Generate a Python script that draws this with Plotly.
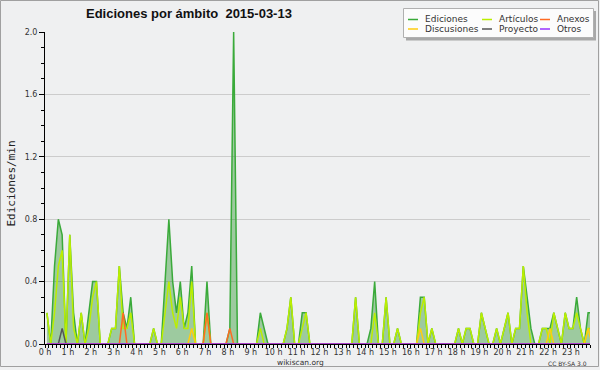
import plotly.graph_objects as go

# 10-minute bins over the day (bin centre, in hours)
bin_index = list(range(144))
hours = [(i + 0.5) / 6 for i in bin_index]

ediciones = [
    0.2, 0, 0.5, 0.8, 0.7, 0, 0.7, 0.2, 0, 0.2, 0, 0.2,
    0.4, 0.4, 0, 0, 0, 0.1, 0.1, 0.5, 0.2, 0.1, 0.3, 0,
    0, 0, 0, 0, 0.1, 0, 0, 0.4, 0.8, 0.4, 0.2, 0.4,
    0.1, 0.2, 0.5, 0, 0, 0, 0.4, 0, 0, 0, 0, 0,
    0.1, 2.0, 0, 0, 0, 0, 0, 0, 0.2, 0.1, 0, 0,
    0, 0, 0, 0.1, 0.3, 0, 0, 0.2, 0.2, 0, 0, 0,
    0, 0, 0, 0, 0, 0, 0, 0, 0, 0.3, 0, 0,
    0, 0.1, 0.4, 0, 0, 0.3, 0, 0, 0.1, 0, 0, 0,
    0, 0, 0.3, 0.3, 0, 0.1, 0, 0, 0, 0, 0, 0,
    0.1, 0, 0.1, 0.1, 0, 0, 0.2, 0.1, 0, 0, 0.1, 0,
    0.1, 0.2, 0, 0.1, 0.1, 0.5, 0.3, 0.1, 0, 0, 0.1, 0.1,
    0.1, 0.2, 0.1, 0, 0.2, 0.1, 0.1, 0.3, 0.1, 0, 0.2, 0.2,
]
articulos = [
    0.2, 0, 0.2, 0.5, 0.6, 0, 0.7, 0.1, 0, 0.2, 0, 0.1,
    0.3, 0.4, 0, 0, 0, 0.1, 0.1, 0.5, 0.1, 0.1, 0.2, 0,
    0, 0, 0, 0, 0.1, 0, 0, 0.2, 0.4, 0.2, 0.1, 0.3,
    0.1, 0.1, 0.4, 0, 0, 0, 0.2, 0, 0, 0, 0, 0,
    0, 0, 0, 0, 0, 0, 0, 0, 0.1, 0, 0, 0,
    0, 0, 0, 0.1, 0.3, 0, 0, 0.1, 0.2, 0, 0, 0,
    0, 0, 0, 0, 0, 0, 0, 0, 0, 0.3, 0, 0,
    0, 0, 0.2, 0, 0, 0.3, 0, 0, 0.1, 0, 0, 0,
    0, 0, 0.2, 0.3, 0, 0.1, 0, 0, 0, 0, 0, 0,
    0.1, 0, 0.1, 0.1, 0, 0, 0.2, 0.1, 0, 0, 0.1, 0,
    0.1, 0.2, 0, 0.1, 0.1, 0.5, 0.2, 0, 0, 0, 0.1, 0.1,
    0, 0.2, 0.1, 0, 0.2, 0.1, 0.1, 0.2, 0.1, 0, 0.1, 0.1,
]
anexos = [
    0, 0, 0, 0, 0, 0, 0, 0, 0, 0, 0, 0,
    0, 0, 0, 0, 0, 0, 0, 0, 0.2, 0, 0, 0,
    0, 0, 0, 0, 0, 0, 0, 0, 0, 0, 0, 0,
    0, 0, 0, 0, 0, 0, 0.2, 0, 0, 0, 0, 0,
    0.1, 0, 0, 0, 0, 0, 0, 0, 0, 0, 0, 0,
    0, 0, 0, 0, 0, 0, 0, 0, 0, 0, 0, 0,
    0, 0, 0, 0, 0, 0, 0, 0, 0, 0, 0, 0,
    0, 0, 0, 0, 0, 0, 0, 0, 0, 0, 0, 0,
    0, 0, 0, 0, 0, 0, 0, 0, 0, 0, 0, 0,
    0, 0, 0, 0, 0, 0, 0, 0, 0, 0, 0, 0,
    0, 0, 0, 0, 0, 0, 0, 0, 0, 0, 0, 0,
    0, 0, 0, 0, 0, 0, 0, 0, 0, 0, 0, 0,
]
discusiones = [
    0, 0, 0, 0, 0, 0, 0, 0, 0, 0, 0, 0,
    0, 0, 0, 0, 0, 0, 0, 0, 0, 0, 0, 0,
    0, 0, 0, 0, 0, 0, 0, 0, 0, 0, 0, 0,
    0, 0, 0.1, 0, 0, 0, 0, 0, 0, 0, 0, 0,
    0, 0, 0, 0, 0, 0, 0, 0, 0, 0, 0, 0,
    0, 0, 0, 0, 0, 0, 0, 0, 0, 0, 0, 0,
    0, 0, 0, 0, 0, 0, 0, 0, 0, 0, 0, 0,
    0, 0, 0, 0, 0, 0, 0, 0, 0, 0, 0, 0,
    0, 0, 0.1, 0, 0, 0, 0, 0, 0, 0, 0, 0,
    0, 0, 0, 0, 0, 0, 0, 0, 0, 0, 0, 0,
    0, 0, 0, 0, 0, 0, 0, 0, 0, 0, 0, 0,
    0.1, 0, 0, 0, 0, 0, 0, 0, 0, 0, 0.1, 0,
]
proyecto = [
    0, 0, 0, 0, 0.1, 0, 0, 0, 0, 0, 0, 0,
    0, 0, 0, 0, 0, 0, 0, 0, 0, 0, 0, 0,
    0, 0, 0, 0, 0, 0, 0, 0, 0, 0, 0, 0,
    0, 0, 0, 0, 0, 0, 0, 0, 0, 0, 0, 0,
    0, 0, 0, 0, 0, 0, 0, 0, 0, 0, 0, 0,
    0, 0, 0, 0, 0, 0, 0, 0, 0, 0, 0, 0,
    0, 0, 0, 0, 0, 0, 0, 0, 0, 0, 0, 0,
    0, 0, 0, 0, 0, 0, 0, 0, 0, 0, 0, 0,
    0, 0, 0, 0, 0, 0, 0, 0, 0, 0, 0, 0,
    0, 0, 0, 0, 0, 0, 0, 0, 0, 0, 0, 0,
    0, 0, 0, 0, 0, 0, 0, 0, 0, 0, 0, 0,
    0, 0, 0, 0, 0, 0, 0, 0, 0, 0, 0, 0,
]
otros = [
    0, 0, 0, 0, 0, 0, 0, 0, 0, 0, 0, 0,
    0, 0, 0, 0, 0, 0, 0, 0, 0, 0, 0, 0,
    0, 0, 0, 0, 0, 0, 0, 0, 0, 0, 0, 0,
    0, 0, 0, 0, 0, 0, 0, 0, 0, 0, 0, 0,
    0, 0, 0, 0, 0, 0, 0, 0, 0, 0, 0, 0,
    0, 0, 0, 0, 0, 0, 0, 0, 0, 0, 0, 0,
    0, 0, 0, 0, 0, 0, 0, 0, 0, 0, 0, 0,
    0, 0, 0, 0, 0, 0, 0, 0, 0, 0, 0, 0,
    0, 0, 0, 0, 0, 0, 0, 0, 0, 0, 0, 0,
    0, 0, 0, 0, 0, 0, 0, 0, 0, 0, 0, 0,
    0, 0, 0, 0, 0, 0, 0, 0, 0, 0, 0, 0,
    0, 0, 0, 0, 0, 0, 0, 0, 0, 0, 0, 0,
]

colors = {
    "Ediciones": "#3aaa3a",
    "Artículos": "#bbee00",
    "Anexos": "#ff6a22",
    "Discusiones": "#ffcc11",
    "Proyecto": "#555555",
    "Otros": "#9933ff",
}
values = {
    "Ediciones": ediciones,
    "Artículos": articulos,
    "Anexos": anexos,
    "Discusiones": discusiones,
    "Proyecto": proyecto,
    "Otros": otros,
}

W, H = 600, 370
L, R, T, B = 45, 10, 32, 26
PW, PH = W - L - R, H - T - B


def px(x):
    return (x - L) / PW


def py(y):
    return (H - B - y) / PH


fig = go.Figure()
fig.add_trace(go.Scatter(
    x=hours, y=ediciones, mode="lines", line=dict(color=colors["Ediciones"], width=1.5),
    fill="tozeroy", fillcolor="rgba(0,128,0,0.34)", showlegend=False, hoverinfo="skip"))
for name in ["Artículos", "Discusiones", "Proyecto", "Anexos", "Otros"]:
    fig.add_trace(go.Scatter(
        x=hours, y=values[name], mode="lines", line=dict(color=colors[name], width=1.5),
        showlegend=False, hoverinfo="skip"))

shapes = []
annotations = []

# outer frame
shapes.append(dict(type="rect", xref="paper", yref="paper",
                   x0=px(0.5), x1=px(598.5), y0=py(0.5), y1=py(366.5),
                   line=dict(color="#a0a0a0", width=1), fillcolor="rgba(0,0,0,0)", layer="above"))

# legend box with shadow
shapes.append(dict(type="rect", xref="paper", yref="paper",
                   x0=px(406), x1=px(596), y0=py(11), y1=py(40.5),
                   line=dict(width=0), fillcolor="#a8a8a8", layer="above"))
shapes.append(dict(type="rect", xref="paper", yref="paper",
                   x0=px(403.5), x1=px(593.5), y0=py(8.5), y1=py(37.5),
                   line=dict(color="#b0b0b0", width=1), fillcolor="#fcfcfc", layer="above"))
legend_layout = [
    ("Ediciones", 408, 19.5), ("Artículos", 482, 19.5), ("Anexos", 540, 19.5),
    ("Discusiones", 408, 29), ("Proyecto", 482, 29), ("Otros", 540, 29),
]
for name, lx, ly in legend_layout:
    shapes.append(dict(type="line", xref="paper", yref="paper",
                       x0=px(lx), x1=px(lx + 10), y0=py(ly), y1=py(ly),
                       line=dict(color=colors[name], width=1.5), layer="above"))
    annotations.append(dict(xref="paper", yref="paper", x=px(lx + 15), y=py(ly),
                            text=name, showarrow=False, xanchor="left", yanchor="middle",
                            font=dict(family="DejaVu Sans", size=9, color="#333333")))

annotations.append(dict(xref="paper", yref="paper", x=px(188.5), y=py(14),
                        text="<b>Ediciones por ámbito  2015-03-13</b>", showarrow=False,
                        xanchor="center", yanchor="middle",
                        font=dict(family="Liberation Sans", size=13, color="#111111")))
annotations.append(dict(xref="paper", yref="paper", x=px(10.5), y=py(184),
                        text="Ediciones/min", showarrow=False, textangle=-90,
                        xanchor="center", yanchor="middle",
                        font=dict(family="DejaVu Sans Mono", size=11, color="#222222")))
annotations.append(dict(xref="paper", yref="paper", x=px(300.5), y=py(362.5),
                        text="wikiscan.org", showarrow=False, xanchor="center", yanchor="middle",
                        font=dict(family="DejaVu Sans", size=7.5, color="#333333")))
annotations.append(dict(xref="paper", yref="paper", x=px(589), y=py(363),
                        text="CC BY-SA 3.0", showarrow=False, xanchor="right", yanchor="middle",
                        font=dict(family="DejaVu Sans", size=6, color="#333333")))

fig.update_layout(
    width=W, height=H, autosize=False,
    margin=dict(l=L, r=R, t=T, b=B, pad=0),
    paper_bgcolor="#eff0f1", plot_bgcolor="#eff0f1",
    shapes=shapes, annotations=annotations, showlegend=False,
    xaxis=dict(range=[0, 143 / 6], tickmode="linear", tick0=0, dtick=1, ticksuffix=" h",
               ticks="outside", ticklen=3, tickcolor="#000000", tickwidth=1,
               ticklabelstandoff=-3,
               showline=True, linecolor="#000000", linewidth=1, showgrid=False, zeroline=False,
               tickfont=dict(family="DejaVu Sans", size=8, color="#333333"),
               minor=dict(dtick=1 / 6, tick0=0, ticks="outside", ticklen=3,
                          tickcolor="#000000", showgrid=False)),
    yaxis=dict(range=[0, 2.0], tickmode="linear", tick0=0, dtick=0.4, tickformat=".1f",
               ticks="outside", ticklen=5, tickcolor="#000000", tickwidth=1,
               showline=True, linecolor="#000000", linewidth=1,
               showgrid=True, gridcolor="#cccccc", gridwidth=1, zeroline=False,
               tickfont=dict(family="DejaVu Sans", size=8, color="#333333"),
               minor=dict(dtick=0.1, tick0=0, ticks="outside", ticklen=3,
                          tickcolor="#000000", showgrid=False)),
)

fig.write_html("out.html", config={"displayModeBar": False},
               post_script="document.body.style.margin='0';document.body.style.overflow='hidden';")
